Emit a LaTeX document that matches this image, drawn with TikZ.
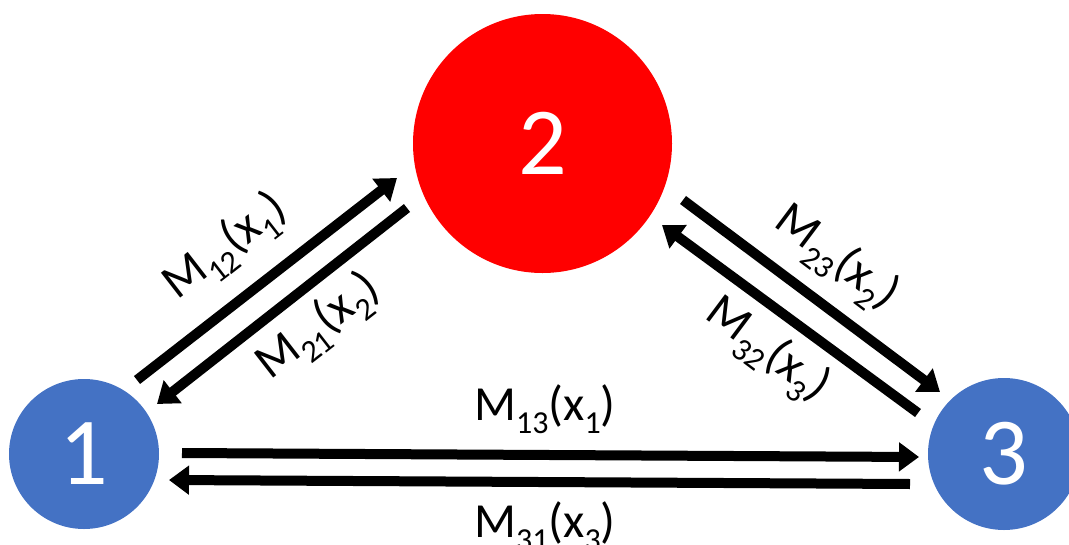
\documentclass[tikz,border=0pt]{standalone}
\usepackage{fontspec}
\setmainfont{Carlito}
\usetikzlibrary{arrows.meta,calc}
\definecolor{nodeblue}{HTML}{4472C4}
\definecolor{nodered}{HTML}{FF0000}
\newcommand{\lsub}[1]{\raisebox{-13pt}{\fontsize{32}{32}\selectfont #1}}
\begin{document}
\begin{tikzpicture}[x=1pt,y=-1pt,
  state/.style={circle, inner sep=0pt, draw=none, text=white, font=\fontsize{96}{96}\selectfont},
  link/.style={line width=10pt, -{Triangle[length=20pt,width=28pt]}},
  lbl/.style={font=\fontsize{49}{49}\selectfont, inner sep=0pt, anchor=base}]
\clip (0,0) rectangle (1069,544);
\useasboundingbox (0,0) rectangle (1069,544);
\node[state, fill=nodeblue, minimum size=150pt] (n1) at (84,454) {1};
\node[state, fill=nodered, minimum size=259pt] (n2) at (542.5,143.5) {2};
\node[state, fill=nodeblue, minimum size=152pt] (n3) at (1004,454) {3};
% 1 <-> 2
\draw[link] ($(n1.center)+(53,-74)$) -- ($(n2.center)+(-145.5,34.5)$);
\draw[link] ($(n2.center)+(-135.5,64.5)$) -- ($(n1.center)+(73,-50)$);
% 2 <-> 3
\draw[link] ($(n2.center)+(140.5,56.5)$) -- ($(n3.center)+(-64,-62)$);
\draw[link] ($(n3.center)+(-86,-41)$) -- ($(n2.center)+(119.5,81.5)$);
% 1 <-> 3
\draw[link] ($(n1.center)+(98,-1)$) -- ($(n3.center)+(-85,3)$);
\draw[link] ($(n3.center)+(-94,30)$) -- ($(n1.center)+(85,26)$);
% labels
\node[lbl, rotate=37.8] (l12) at (233,257) {M\lsub{12}(x\lsub{1})};
\node[lbl, rotate=37.8] (l21) at (326,337) {M\lsub{21}(x\lsub{2})};
\node[lbl, rotate=-36.8] (l23) at (829,268) {M\lsub{23}(x\lsub{2})};
\node[lbl, rotate=-36.8] (l32) at (760,360) {M\lsub{32}(x\lsub{3})};
\node[lbl] (l13) at (545,420) {M\lsub{13}(x\lsub{1})};
\node[lbl] (l31) at (545,537) {M\lsub{31}(x\lsub{3})};
\end{tikzpicture}
\end{document}
